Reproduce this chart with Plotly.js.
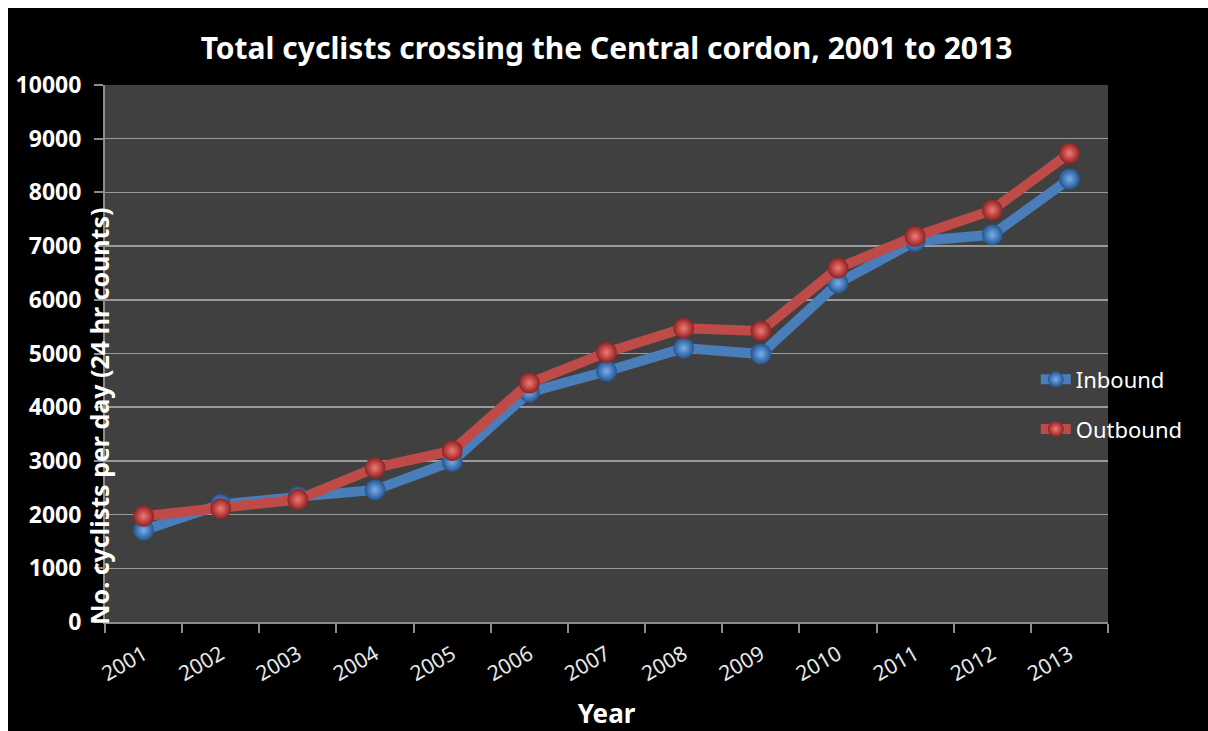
<!DOCTYPE html>
<html>
<head>
<meta charset="utf-8">
<script src="https://cdn.plot.ly/plotly-3.0.1.min.js"></script>
<style>
html,body{margin:0;padding:0;background:#ffffff;}
#chart{position:absolute;left:8px;top:8px;width:1200px;height:723px;}
</style>
</head>
<body>
<div id="chart"></div>
<script>
var years = ["2001","2002","2003","2004","2005","2006","2007","2008","2009","2010","2011","2012","2013"];
var inbound = [1710, 2190, 2330, 2460, 2990, 4280, 4670, 5100, 4990, 6310, 7090, 7210, 8250];
var outbound = [1970, 2110, 2280, 2870, 3190, 4450, 5020, 5470, 5420, 6590, 7180, 7670, 8730];
var yTicks = [0,1000,2000,3000,4000,5000,6000,7000,8000,9000,10000];

var font = "Noto Sans, Open Sans, sans-serif";

var traces = [
  {
    x: years, y: inbound, name: "Inbound", type: "scatter", mode: "lines+markers",
    legendgroup: "in",
    line: {color: "#4A7EBB", width: 10},
    marker: {size: 21, color: "#23548F", gradient: {type: "radial", color: "#79AEEE"}, line: {width: 0}}
  },
  {
    x: years, y: outbound, name: "Outbound", type: "scatter", mode: "lines+markers",
    legendgroup: "out",
    line: {color: "#BE4B48", width: 10},
    marker: {size: 21, color: "#8E2120", gradient: {type: "radial", color: "#F47874"}, line: {width: 0}}
  }
];

var layout = {
  width: 1200, height: 723,
  paper_bgcolor: "#000000",
  plot_bgcolor: "#404040",
  margin: {l: 97, r: 100, t: 77, b: 109},
  font: {family: font, color: "#ffffff"},
  title: {
    text: "<b>Total cyclists crossing the Central cordon, 2001 to 2013</b>",
    font: {family: font, size: 30, color: "#ffffff"},
    x: 0.5, xanchor: "center", xref: "paper", y: 0.944, yanchor: "middle"
  },
  xaxis: {
    type: "category",
    tickson: "boundaries",
    ticks: "outside", ticklen: 9, tickcolor: "#8c8c8c", tickwidth: 2,
    showline: true, linecolor: "#8c8c8c", linewidth: 2,
    showgrid: false,
    tickangle: -30,
    ticklabelstandoff: 10,
    tickfont: {family: font, size: 21, color: "#e8e8e8"},
    title: {text: "<b>Year</b>", font: {family: font, size: 26, color: "#ffffff"}, standoff: 20},
    range: [-0.5, 12.5]
  },
  yaxis: {
    range: [0, 10000],
    tickvals: yTicks,
    ticktext: yTicks.map(String),
    ticks: "outside", ticklen: 9, tickcolor: "#8c8c8c", tickwidth: 2,
    showline: true, linecolor: "#8c8c8c", linewidth: 2,
    showgrid: true, gridcolor: "#9a9a9a", gridwidth: 1.5,
    zeroline: false,
    ticklabelstandoff: 8,
    tickfont: {family: font, size: 23, weight: "bold", color: "#ffffff"}
  },
  legend: {
    x: 0.928, xanchor: "left", y: 0.405, yanchor: "middle",
    bgcolor: "rgba(0,0,0,0)",
    font: {family: font, size: 22, color: "#ffffff"},
    tracegroupgap: 18
  },
  annotations: [
    {
      text: "<b>No. cyclists per day (24 hr counts)</b>",
      textangle: -90,
      xref: "paper", yref: "paper",
      x: -0.006, y: -0.008, xanchor: "center", yanchor: "bottom",
      showarrow: false,
      font: {family: font, size: 25, color: "#ffffff"}
    }
  ],
  showlegend: true
};

Plotly.newPlot("chart", traces, layout, {displayModeBar: false, staticPlot: true});
</script>
</body>
</html>
